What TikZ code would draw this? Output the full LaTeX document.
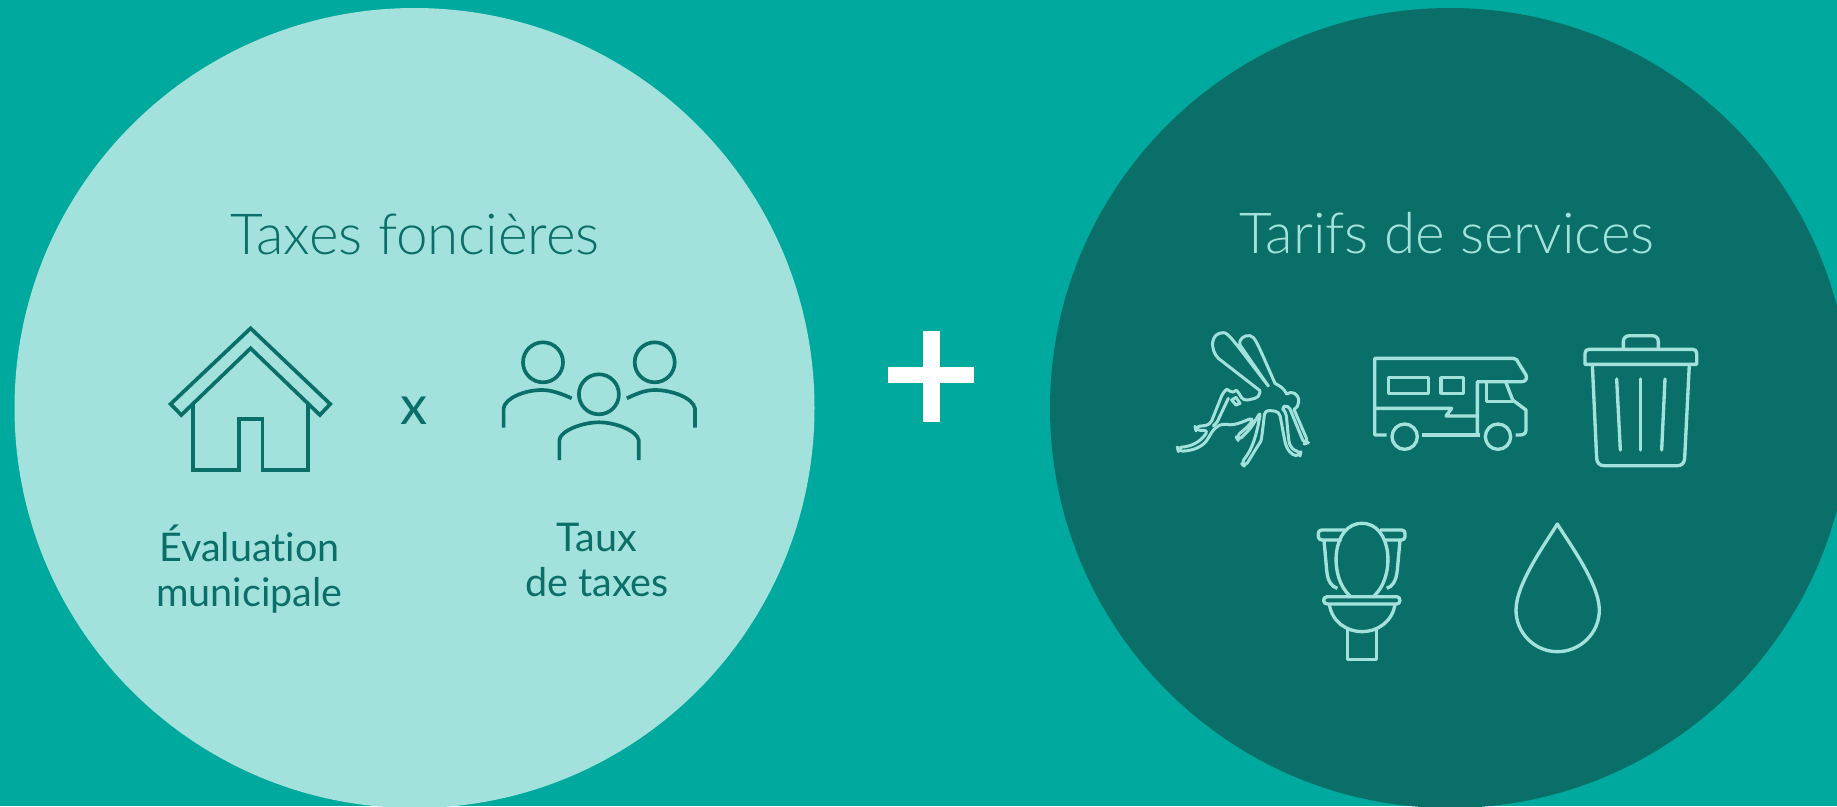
\documentclass[tikz,border=0pt]{standalone}
\usepackage{fontspec}
\setmainfont{Lato}[Ligatures=NoCommon]
\newfontfamily\lightfont{Lato Light}[Ligatures=NoCommon]
\definecolor{fondvert}{HTML}{00A99D}
\definecolor{clair}{HTML}{A3E2DC}
\definecolor{fonce}{HTML}{0A6F68}
\tikzset{
  titre/.style={font=\lightfont\fontsize{32.2}{38}\selectfont},
  legende/.style={font=\fontsize{22.5}{25.6}\selectfont, align=center, text=fonce},
  icone/.style={line width=2.1pt, line join=miter, fonce},
  icomos/.style={line width=1.7pt, line join=round, line cap=round, clair},
  icoserv/.style={line width=1.9pt, line join=round, clair}
}
\begin{document}
\begin{tikzpicture}[x=.02cm,y=-.02cm]
\clip (0,0) rectangle (1837,806);
\fill [fondvert] (0,0) rectangle (1837,806);
\fill [clair] (414.5,408) circle [radius = 400];
\fill [fonce] (1450,408) circle [radius = 400];
% le plus
\fill [white] (887.7,367.3) rectangle (973.7,382.7);
\fill [white] (922.7,331) rectangle (939.7,422.3);
% titres
\node [titre, text=fonce] (foncieres) at (415,234) {Taxes foncières};
\node [titre, text=clair] (services) at (1447,233) {Tarifs de services};
\node [legende] (evaluation) at (249.5,569) {Évaluation\\municipale};
\node [legende] (taux) at (597,560) {Taux\\de taxes};
\node [text=fonce, font=\fontsize{31}{36}\selectfont] (fois) at (414,411) {x};
% maison
\draw [icone] (250.6,328.3) -- (170.6,404) -- (181.3,415) -- (250.6,348.3) -- (319.9,415) -- (330.2,404) -- cycle;
\draw [icone] (193.2,404) -- (193.2,470) -- (238.7,470) -- (238.7,419.3) -- (262.5,419.3) -- (262.5,470) -- (308,470) -- (308,404);
% personnes
\draw [icone] (543,362.3) ellipse [x radius = 20, y radius = 20];
\draw [icone] (654.7,362.3) ellipse [x radius = 20, y radius = 20];
\draw [icone] (598.9,394.3) ellipse [x radius = 20, y radius = 20];
\draw [icone] (503.6,427.7) -- (503.6,408.3) .. controls (505,398) and (525,390) .. (541.8,390) .. controls (552,390) and (562,394) .. (571.7,398.3);
\draw [icone] (694.9,427.7) -- (694.9,408.3) .. controls (693,398) and (672,390) .. (654.7,390) .. controls (645,390) and (636,394) .. (626.8,398.3);
\draw [icone] (559.4,460) -- (559.4,440) .. controls (560,431) and (582,422.3) .. (598.9,422.3) .. controls (616,422.3) and (637,431) .. (638.7,440) -- (638.7,460);
% moustique
\begin{scope}[shift={(1160,320)},scale=1/3]
\draw [icomos] (300,212) -- (175,115) .. controls (150,90) and (150,38) .. (190,38) .. controls (205,38) and (215,55) .. (325,198) -- (240,75) .. controls (235,55) and (255,45) .. (270,47) .. controls (285,50) and (290,65) .. (345,190) .. controls (360,198) and (372,205) .. (380,222) .. controls (395,210) and (418,222) .. (416,245) .. controls (416,255) and (412,262) .. (402,268) [rounded corners=2.5pt] -- (445,368) -- (433,372) -- (385,255) -- (362,262) -- (378,275) -- (385,350) .. controls (390,385) and (405,392) .. (423,395) -- (420,408) .. controls (395,405) and (380,390) .. (372,350) -- (358,275) -- (315,270) .. controls (310,310) and (305,360) .. (295,375) -- (255,440) -- (243,430) .. controls (270,395) and (285,370) .. (302,275) -- (272,325) -- (235,362) -- (228,350) -- (272,312) -- (280,292) .. controls (250,305) and (220,318) .. (190,310) .. controls (170,320) and (160,330) .. (150,345) .. controls (130,380) and (100,392) .. (55,394) -- (52,382) .. controls (90,380) and (120,368) .. (145,330) -- (108,332) -- (105,320) -- (150,315) -- (190,215) .. controls (200,208) and (212,215) .. (220,222) .. controls (230,208) and (240,225) .. (250,243) -- (298,232) -- (300,212);
\draw [icomos] (205,235) -- (172,305) -- (160,318);
\draw [icomos] (215,240) -- (228,255) -- (240,250) -- (228,232) -- cycle;
\end{scope}
% camping-car
\begin{scope}[shift={(1360,320)},scale=1/3]
\draw [icoserv] (80,345) -- (44,345) -- (44,115) -- (460,115) .. controls (470,115) and (472,122) .. (475,128) -- (498,165) .. controls (503,178) and (495,185) .. (485,185) -- (352,185) -- (352,345);
\draw [icoserv] (44,265) -- (275,265) -- (258,288) -- (352,288);
\draw [icoserv] (85,173) rectangle (205,220);
\draw [icoserv] (243,173) rectangle (310,220);
\draw [icoserv] (380,185) -- (380,245) -- (458,245);
\draw [icoserv] (438,188) -- (458,240) -- (498,270) -- (498,330) .. controls (498,340) and (490,345) .. (480,345) -- (467,345);
\draw [icoserv] (187,345) -- (360,345);
\draw [icoserv] (134,350) circle [radius = 38];
\draw [icoserv] (414,350) circle [radius = 38];
% poubelle
\draw [icoserv] (675,133) -- (675,100) .. controls (675,92) and (680,88) .. (688,88) -- (998,88) .. controls (1006,88) and (1010,92) .. (1010,100) -- (1010,133) -- cycle;
\draw [icoserv] (790,88) -- (790,65) .. controls (790,53) and (798,47) .. (810,47) -- (875,47) .. controls (887,47) and (895,53) .. (895,65) -- (895,88);
\draw [icoserv] (697,133) -- (710,415) .. controls (711,430) and (720,437) .. (732,437) -- (952,437) .. controls (964,437) and (973,430) .. (974,415) -- (988,133);
\draw [icoserv, line cap=round] (770,177) -- (781,390);
\draw [icoserv, line cap=round] (842,177) -- (842,390);
\draw [icoserv, line cap=round] (915,177) -- (905,390);
\end{scope}
% toilette
\begin{scope}[shift={(1300,510)},scale=1/3]
\draw [icoserv] (135,60) -- (65,60) .. controls (58,60) and (55,65) .. (55,70) -- (55,80) .. controls (55,86) and (60,90) .. (66,90) -- (125,90);
\draw [icoserv] (240,60) -- (305,60) .. controls (312,60) and (315,65) .. (315,70) -- (315,80) .. controls (315,86) and (310,90) .. (304,90) -- (250,90);
\draw [icoserv] (72,90) -- (80,180) .. controls (83,215) and (95,230) .. (112,235);
\draw [icoserv] (300,90) -- (292,180) .. controls (288,215) and (277,230) .. (260,235);
\draw [icoserv] (150,258) .. controls (85,200) and (95,40) .. (186,40) .. controls (277,40) and (287,200) .. (222,258);
\draw [icoserv] (82,260) -- (290,260) .. controls (303,260) and (303,282) .. (290,282) -- (82,282) .. controls (67,282) and (67,260) .. (82,260) -- cycle;
\draw [icoserv] (88,282) .. controls (95,335) and (140,365) .. (186,365) .. controls (232,365) and (278,335) .. (285,282);
\draw [icoserv] (143,358) -- (143,448) -- (230,448) -- (230,358);
% goutte
\draw [icoserv] (772,42) .. controls (740,95) and (648,220) .. (648,300) .. controls (648,370) and (705,425) .. (772,425) .. controls (840,425) and (898,370) .. (898,300) .. controls (898,220) and (804,95) .. (772,42) -- cycle;
\end{scope}
\end{tikzpicture}
\end{document}
